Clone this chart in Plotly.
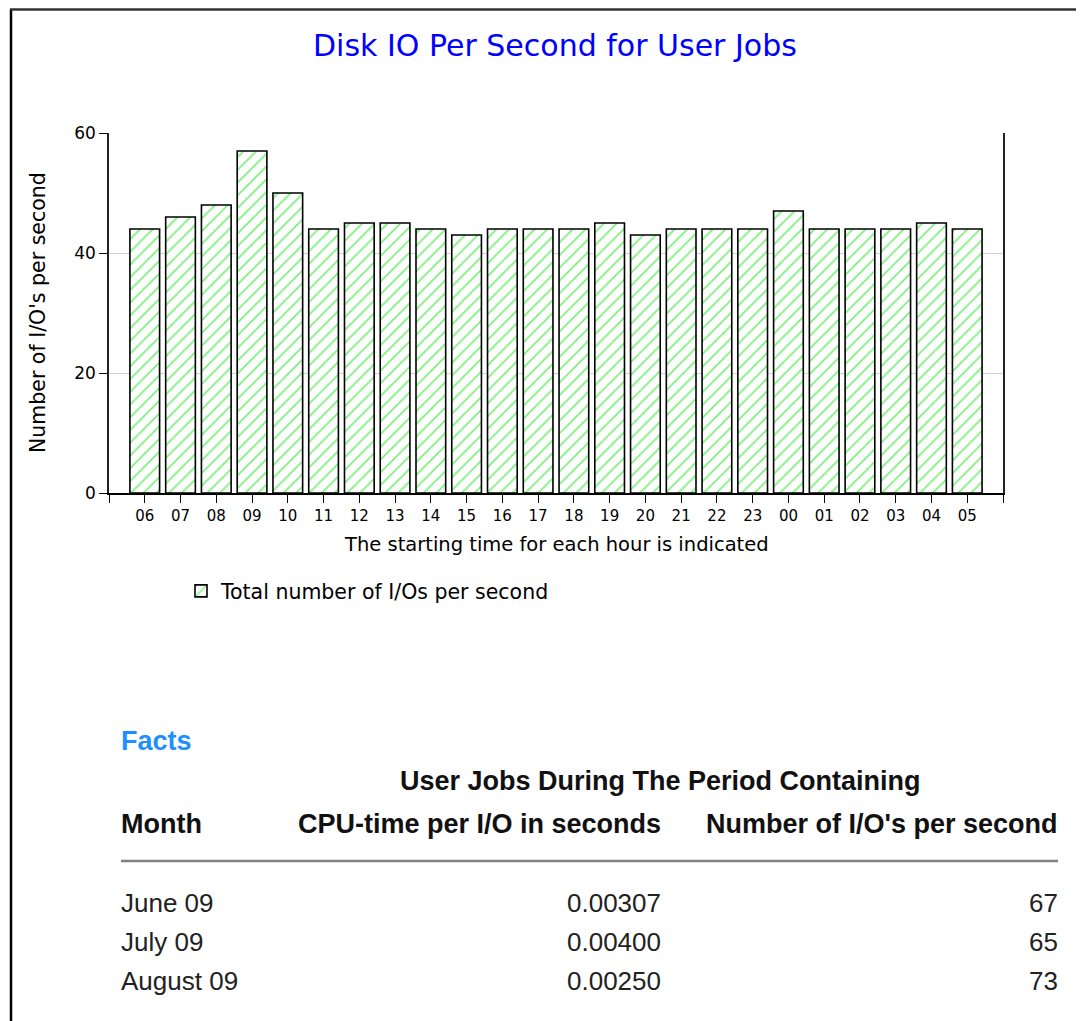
import plotly.graph_objects as go

# ---------------- data ----------------
hours = ["06", "07", "08", "09", "10", "11", "12", "13", "14", "15", "16", "17",
         "18", "19", "20", "21", "22", "23", "00", "01", "02", "03", "04", "05"]
io_per_sec = [44, 46, 48, 57, 50, 44, 45, 45, 44, 43, 44, 44,
              44, 45, 43, 44, 44, 44, 47, 44, 44, 44, 45, 44]
series_name = "Total number of I/Os per second"

facts_months = ["June 09", "July 09", "August 09"]
facts_cpu = ["0.00307", "0.00400", "0.00250"]
facts_io = ["67", "65", "73"]

# ---------------- geometry helpers (page pixels -> paper) ----------------
OFF = 8                      # default page body margin
W, H = 1084 - OFF, 1021 - OFF
L, R, T, B = 109 - OFF, 1003 - OFF, 133 - OFF, 493 - OFF


def px(x):
    return (x - OFF - L) / (R - L)


def py(y):
    return (B - (y - OFF)) / (B - T)


idx = list(range(len(hours)))

fig = go.Figure()
fig.add_trace(go.Bar(
    x=idx, y=io_per_sec, name=series_name, width=0.83,
    marker=dict(color="white",
                line=dict(color="black", width=1.6),
                pattern=dict(shape="/", fgcolor="#00e000", bgcolor="white",
                             size=9, solidity=0.2)),
    showlegend=True,
))

tickvals = [-1] + idx + [len(hours)]
ticktext = [""] + hours + [""]

fig.update_layout(
    width=W, height=H,
    margin=dict(l=L, r=W - R, t=T, b=H - B, pad=0),
    paper_bgcolor="white", plot_bgcolor="white",
    font=dict(family="DejaVu Sans", color="black"),
    showlegend=True,
    legend=dict(x=px(181), y=py(571), xanchor="left", yanchor="top",
                font=dict(family="DejaVu Sans", size=20.5, color="black"),
                bgcolor="rgba(0,0,0,0)", borderwidth=0),
)
fig.update_xaxes(
    range=[-1, len(hours)], tickmode="array", tickvals=tickvals, ticktext=ticktext,
    ticks="outside", ticklen=8, tickwidth=1.3, tickcolor="black",
    showline=True, linecolor="black", linewidth=1.6, mirror=False,
    showgrid=False, zeroline=False,
    tickfont=dict(family="DejaVu Sans", size=15, color="black"),
)
fig.update_yaxes(
    range=[0, 60], tickmode="array", tickvals=[0, 20, 40, 60],
    ticks="outside", ticklen=8, tickwidth=1.3, tickcolor="black",
    showline=True, linecolor="#222222", linewidth=1.6, mirror=True,
    showgrid=True, gridcolor="#d0d0d0", gridwidth=1, zeroline=False,
    tickfont=dict(family="DejaVu Sans", size=17, color="black"),
)

ann = []
# chart title
ann.append(dict(text="Disk IO Per Second for User Jobs", x=px(555), y=py(46),
                xref="paper", yref="paper", showarrow=False, xanchor="center", yanchor="middle",
                font=dict(family="DejaVu Sans", size=30, color="#0000ff")))
# axis titles
ann.append(dict(text="Number of I/O's per second", x=px(38), y=py(313), textangle=-90,
                xref="paper", yref="paper", showarrow=False, xanchor="center", yanchor="middle",
                font=dict(family="DejaVu Sans", size=20.5, color="black")))
ann.append(dict(text="The starting time for each hour is indicated", x=px(556), y=py(544),
                xref="paper", yref="paper", showarrow=False, xanchor="center", yanchor="middle",
                font=dict(family="DejaVu Sans", size=19.5, color="black")))

# facts section
bold = dict(family="Liberation Sans, Arial", size=27, color="#111111", weight="bold")
reg = dict(family="Liberation Sans, Arial", size=26, color="#222222")
XL, XM, XR = 119, 663, 1060
ann.append(dict(text="<b>Facts</b>", x=px(XL), y=py(741), xref="paper", yref="paper",
                showarrow=False, xanchor="left", yanchor="middle",
                font=dict(family="Liberation Sans, Arial", size=27, color="#1e8fff")))
ann.append(dict(text="<b>User Jobs During The Period Containing</b>", x=px(660), y=py(781),
                xref="paper", yref="paper", showarrow=False, xanchor="center", yanchor="middle",
                font=bold))
ann.append(dict(text="<b>Month</b>", x=px(XL), y=py(824), xref="paper", yref="paper",
                showarrow=False, xanchor="left", yanchor="middle", font=bold))
ann.append(dict(text="<b>CPU-time per I/O in seconds</b>", x=px(XM), y=py(824), xref="paper",
                yref="paper", showarrow=False, xanchor="right", yanchor="middle", font=bold))
ann.append(dict(text="<b>Number of I/O's per second</b>", x=px(XR), y=py(824), xref="paper",
                yref="paper", showarrow=False, xanchor="right", yanchor="middle", font=bold))
row_y = [903, 942, 981]
for m, c, n, ry in zip(facts_months, facts_cpu, facts_io, row_y):
    ann.append(dict(text=m, x=px(XL), y=py(ry), xref="paper", yref="paper",
                    showarrow=False, xanchor="left", yanchor="middle", font=reg))
    ann.append(dict(text=c, x=px(XM), y=py(ry), xref="paper", yref="paper",
                    showarrow=False, xanchor="right", yanchor="middle", font=reg))
    ann.append(dict(text=n, x=px(XR), y=py(ry), xref="paper", yref="paper",
                    showarrow=False, xanchor="right", yanchor="middle", font=reg))
fig.update_layout(annotations=ann)

shapes = [
    # outer frame (left and top)
    dict(type="line", xref="paper", yref="paper", x0=px(11), x1=px(11), y0=py(9), y1=py(1021),
         line=dict(color="black", width=2.5)),
    dict(type="line", xref="paper", yref="paper", x0=px(10), x1=px(1084), y0=py(9.5), y1=py(9.5),
         line=dict(color="#333333", width=2.5)),
    # facts table rule
    dict(type="line", xref="paper", yref="paper", x0=px(121), x1=px(1058), y0=py(861), y1=py(861),
         line=dict(color="#808080", width=2.5)),
]
fig.update_layout(shapes=shapes)

fig.write_html("out.html")
